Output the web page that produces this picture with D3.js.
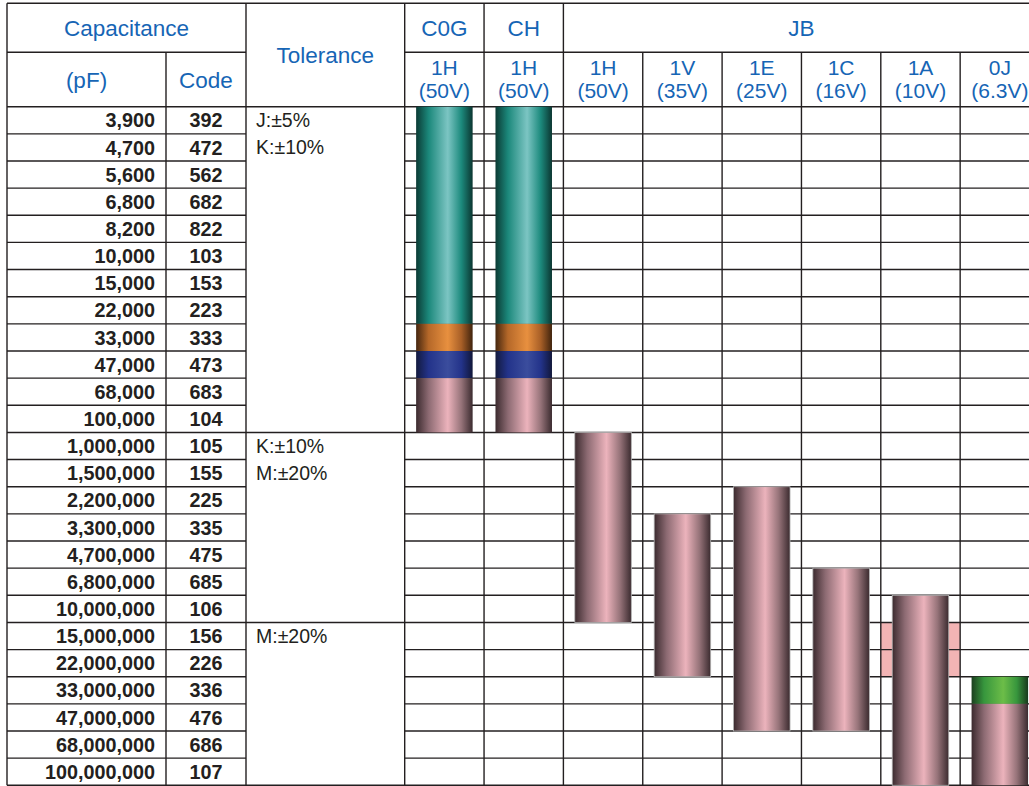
<!DOCTYPE html>
<html>
<head>
<meta charset="utf-8">
<script src="https://d3js.org/d3.v7.min.js"></script>
<style>
  body { margin: 0; background: #fff; }
  text { font-family: "Liberation Sans", Arial, Helvetica, sans-serif; }
  .head { fill: #1665b5; font-size: 22.5px; }
  .volt { fill: #1665b5; font-size: 21px; }
  .cap { fill: #231f20; font-size: 19.8px; font-weight: bold; }
  .tol { fill: #231f20; font-size: 19.5px; }
  .grid { stroke: #231f20; stroke-width: 1.4; }
</style>
</head>
<body>
<svg width="1029" height="786"></svg>
<script>

// --- data ---
var capacitance = ["3,900", "4,700", "5,600", "6,800", "8,200", "10,000", "15,000", "22,000",
                   "33,000", "47,000", "68,000", "100,000",
                   "1,000,000", "1,500,000", "2,200,000", "3,300,000", "4,700,000", "6,800,000", "10,000,000",
                   "15,000,000", "22,000,000", "33,000,000", "47,000,000", "68,000,000", "100,000,000"];
var codes = ["392", "472", "562", "682", "822", "103", "153", "223", "333", "473", "683", "104",
             "105", "155", "225", "335", "475", "685", "106",
             "156", "226", "336", "476", "686", "107"];

// tolerance groups: first code, last code, text lines
var tolStart = ["392", "105", "156"];
var tolEnd   = ["104", "106", "107"];
var tolText  = [["J:\u00b15%", "K:\u00b110%"], ["K:\u00b110%", "M:\u00b120%"], ["M:\u00b120%"]];

var dielectrics = ["C0G", "CH", "JB"];
var dielectricSpan = [1, 1, 6];
var voltCodes = ["1H", "1H", "1H", "1V", "1E", "1C", "1A", "0J"];
var voltLabels = ["(50V)", "(50V)", "(50V)", "(35V)", "(25V)", "(16V)", "(10V)", "(6.3V)"];
var columns = ["C0G-1H", "CH-1H", "JB-1H", "JB-1V", "JB-1E", "JB-1C", "JB-1A", "JB-0J"];

// bar segments: column, first code, last code, colour tone
var segCol  = ["C0G-1H", "C0G-1H", "C0G-1H", "C0G-1H", "CH-1H", "CH-1H", "CH-1H", "CH-1H",
               "JB-1H", "JB-1V", "JB-1E", "JB-1C", "JB-1A", "JB-0J", "JB-0J"];
var segFrom = ["392", "333", "473", "683", "392", "333", "473", "683",
               "105", "335", "225", "685", "106", "336", "476"];
var segTo   = ["223", "333", "473", "104", "223", "333", "473", "104",
               "106", "226", "476", "476", "107", "336", "107"];
var segTone = ["teal", "orange", "blue", "pink", "teal", "orange", "blue", "pink",
               "pink", "pink", "pink", "pink", "pink", "green", "pink"];

// shaded background cells (column, code)
var shadeCol = ["JB-1A", "JB-1A"];
var shadeCode = ["156", "226"];

// --- layout ---
var svg = d3.select("svg");
var leftX = 7, topY = 3.3, headMid = 52.3, headBottom = 106.7, bottomY = 785.3;
var xPf = 166, xCode = 246, xTol = 404.7, colW = 79.35, barW = 56.5;
var rightEdge = 1029;

var y = d3.scaleBand().domain(codes).range([headBottom, bottomY]);
var x = d3.scaleBand().domain(columns).range([xTol, xTol + colW * columns.length]);

// gradients
var tones = {
  teal:   ["#0b3a34", "#1b887b", "#7cc5c3", "#1c8a7d", "#0b3631"],
  orange: ["#45260f", "#b56829", "#e8903f", "#a85f27", "#40230d"],
  blue:   ["#131a3e", "#23338a", "#3b4d9d", "#23338a", "#11173a"],
  pink:   ["#3b2a2e", "#8c6a72", "#ecb3bc", "#967379", "#3b2b2f"],
  green:  ["#1b3f1f", "#37963d", "#6cbd48", "#37963d", "#193a1c"]
};
var defs = svg.append("defs");
Object.keys(tones).forEach(function(k) {
  var g = defs.append("linearGradient").attr("id", "g-" + k)
    .attr("x1", "0%").attr("x2", "100%").attr("y1", "0%").attr("y2", "0%");
  [0, 22, 56, 80, 100].forEach(function(o, i) {
    g.append("stop").attr("offset", o + "%").attr("stop-color", tones[k][i]);
  });
});

// shaded cells
svg.selectAll(".shade")
  .data(shadeCol)
  .enter().append("rect")
  .attr("x", function(d) { return x(d); })
  .attr("y", function(d, i) { return y(shadeCode[i]); })
  .attr("width", x.bandwidth())
  .attr("height", y.bandwidth())
  .attr("fill", "#f2b4b4");

// grid lines
var grid = svg.append("g");
function hline(y0, x0, x1) {
  grid.append("line").attr("class", "grid").attr("x1", x0).attr("x2", x1).attr("y1", y0).attr("y2", y0);
}
function vline(x0, y0, y1) {
  grid.append("line").attr("class", "grid").attr("x1", x0).attr("x2", x0).attr("y1", y0).attr("y2", y1);
}
hline(topY, leftX, rightEdge);
hline(headMid, leftX, xCode);
hline(headMid, xTol, rightEdge);
hline(headBottom, leftX, rightEdge);
codes.forEach(function(c, i) {
  if (i === 0) return;
  var yy = y(c);
  if (tolStart.indexOf(c) >= 0) {
    hline(yy, leftX, rightEdge);
  } else {
    hline(yy, leftX, xCode);
    hline(yy, xTol, rightEdge);
  }
});
hline(bottomY, leftX, rightEdge);

vline(leftX, topY, bottomY);
vline(xPf, headMid, bottomY);
vline(xCode, topY, bottomY);
vline(xTol, topY, bottomY);
columns.forEach(function(c, i) {
  if (i === 0) return;
  vline(x(c), i <= 2 ? topY : headMid, bottomY);
});

// bars
svg.selectAll(".seg")
  .data(segCol)
  .enter().append("rect")
  .attr("x", function(d) { return x(d) + (x.bandwidth() - barW) / 2; })
  .attr("y", function(d, i) { return y(segFrom[i]); })
  .attr("width", barW)
  .attr("height", function(d, i) { return y(segTo[i]) + y.bandwidth() - y(segFrom[i]); })
  .attr("fill", function(d, i) { return "url(#g-" + segTone[i] + ")"; })
  .attr("stroke", function(d, i) { return i > 7 && i < 13 ? "#b3b3b3" : "none"; })
  .attr("stroke-width", 0.8);

// header texts
function headText(cls, tx, ty, s) {
  svg.append("text").attr("class", cls).attr("x", tx).attr("y", ty)
    .attr("text-anchor", "middle").attr("dy", "0.36em").text(s);
}
headText("head", (leftX + xCode) / 2, (topY + headMid) / 2, "Capacitance");
headText("head", (leftX + xPf) / 2, (headMid + headBottom) / 2, "(pF)");
headText("head", (xPf + xCode) / 2, (headMid + headBottom) / 2, "Code");
headText("head", (xCode + xTol) / 2, (topY + headBottom) / 2, "Tolerance");

var colIdx = 0;
dielectrics.forEach(function(d, i) {
  var x0 = x(columns[colIdx]);
  var x1 = x0 + colW * dielectricSpan[i];
  headText("head", (x0 + x1) / 2, (topY + headMid) / 2, d);
  colIdx += dielectricSpan[i];
});
columns.forEach(function(c, i) {
  var cx = x(c) + x.bandwidth() / 2;
  headText("volt", cx, 67.5, voltCodes[i]);
  headText("volt", cx, 90.5, voltLabels[i]);
});

// row texts
svg.selectAll(".capt")
  .data(capacitance)
  .enter().append("text")
  .attr("class", "cap")
  .attr("x", xPf - 11)
  .attr("y", function(d, i) { return y(codes[i]) + y.bandwidth() / 2; })
  .attr("dy", "0.36em")
  .attr("text-anchor", "end")
  .text(function(d) { return d; });

svg.selectAll(".codet")
  .data(codes)
  .enter().append("text")
  .attr("class", "cap")
  .attr("x", (xPf + xCode) / 2)
  .attr("y", function(d) { return y(d) + y.bandwidth() / 2; })
  .attr("dy", "0.36em")
  .attr("text-anchor", "middle")
  .text(function(d) { return d; });

tolText.forEach(function(lines, g) {
  var start = codes.indexOf(tolStart[g]);
  lines.forEach(function(s, j) {
    svg.append("text").attr("class", "tol")
      .attr("x", xCode + 10)
      .attr("y", y(codes[start + j]) + y.bandwidth() / 2)
      .attr("dy", "0.36em")
      .text(s);
  });
});
</script>
</body>
</html>
